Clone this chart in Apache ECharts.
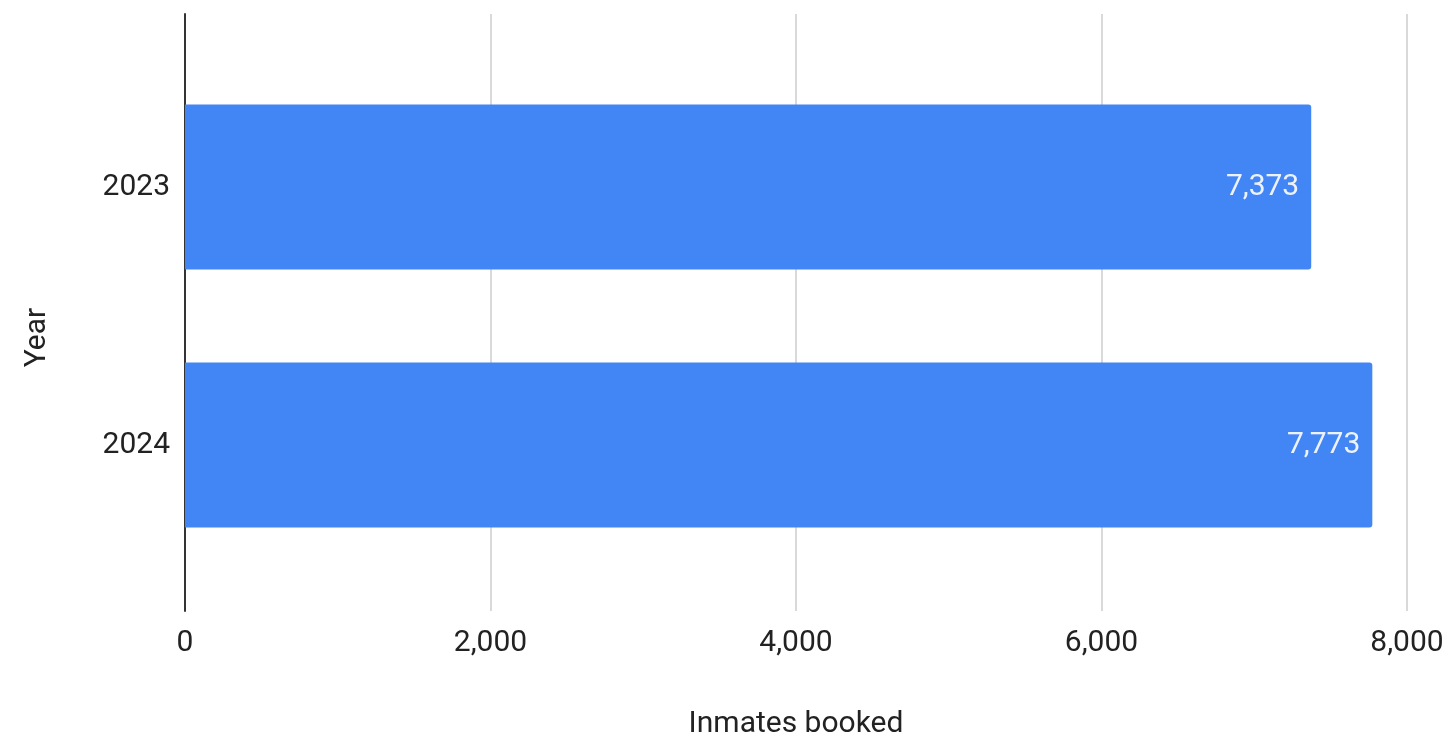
<!DOCTYPE html>
<html>
<head>
<meta charset="utf-8">
<script src="https://cdn.jsdelivr.net/npm/echarts@6/dist/echarts.min.js"></script>
<style>
html,body{margin:0;padding:0;background:#fff;}
#chart{width:1449px;height:744px;}
</style>
</head>
<body>
<div id="chart"></div>
<script>
const categories = ['2023', '2024'];
const inmatesBooked = [7373, 7773];
const xTicks = [0, 2000, 4000, 6000, 8000];

const FONT = 'Roboto';
const FS = 30;
const fmt = v => v.toLocaleString('en-US');

const chart = echarts.init(document.getElementById('chart'));
chart.setOption({
  animation: false,
  backgroundColor: '#ffffff',
  textStyle: { fontFamily: FONT },
  grid: [
    { left: 185, right: 42, top: 14, bottom: 126 },
    { left: 185, right: 42, top: 58, bottom: 170 }
  ],
  xAxis: [
    {
      gridIndex: 0, type: 'value', min: xTicks[0], max: xTicks[xTicks.length - 1], interval: 2000,
      axisLine: { show: false }, axisTick: { show: false },
      splitLine: { show: true, lineStyle: { color: '#cccccc', width: 1.5 } },
      axisLabel: { formatter: fmt, fontSize: FS, color: '#222222', fontFamily: FONT, margin: 17 },
      name: 'Inmates booked', nameLocation: 'middle', nameGap: 98,
      nameTextStyle: { fontSize: FS, color: '#222222', fontFamily: FONT }
    },
    {
      gridIndex: 1, type: 'value', min: xTicks[0], max: xTicks[xTicks.length - 1], show: false
    }
  ],
  yAxis: [
    {
      gridIndex: 0, type: 'value', min: 0, max: 1,
      axisLine: { show: true, lineStyle: { color: '#333333', width: 2 } },
      axisTick: { show: false }, axisLabel: { show: false }, splitLine: { show: false },
      name: 'Year', nameLocation: 'middle', nameGap: 133,
      nameTextStyle: { fontSize: FS, color: '#222222', fontFamily: FONT, padding: [0, 50, 0, 0] }
    },
    {
      gridIndex: 1, type: 'category', data: categories, inverse: true,
      axisLine: { show: false }, axisTick: { show: false },
      axisLabel: { fontSize: FS, color: '#222222', fontFamily: FONT, margin: 15 }
    }
  ],
  series: [{
    type: 'bar',
    xAxisIndex: 1, yAxisIndex: 1,
    data: inmatesBooked,
    barCategoryGap: '36%',
    itemStyle: { color: '#4285f4', borderRadius: [0, 3, 3, 0] },
    label: {
      show: true, position: 'insideRight', distance: 12,
      formatter: p => fmt(p.value),
      fontSize: FS, color: 'rgba(255,255,255,0.9)', fontFamily: FONT
    }
  }]
});
</script>
</body>
</html>
